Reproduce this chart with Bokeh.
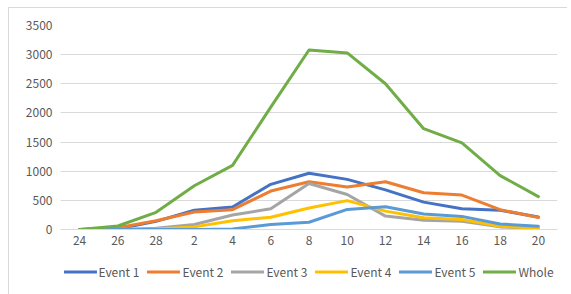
from bokeh.plotting import figure
from bokeh.models import Range1d, FactorRange, Legend, LegendItem
from bokeh.layouts import column
from bokeh.embed import file_html
from bokeh.resources import INLINE

days = ["24", "26", "28", "2", "4", "6", "8", "10", "12", "14", "16", "18", "20"]
event1 = [0, 10, 140, 330, 385, 775, 965, 860, 680, 470, 355, 330, 215]
event2 = [0, 30, 150, 300, 340, 660, 820, 730, 820, 630, 590, 340, 205]
event3 = [0, 0, 20, 85, 250, 355, 790, 600, 230, 160, 140, 45, 15]
event4 = [0, 0, 10, 45, 150, 210, 370, 495, 315, 200, 170, 55, 20]
event5 = [0, 0, 0, 0, 10, 85, 125, 345, 390, 265, 225, 95, 55]
whole = [0, 60, 295, 750, 1100, 2100, 3080, 3030, 2500, 1730, 1485, 925, 565]

series = [
    ("Event 1", event1, "#4472C4"),
    ("Event 2", event2, "#ED7D31"),
    ("Event 3", event3, "#A5A5A5"),
    ("Event 4", event4, "#FFC000"),
    ("Event 5", event5, "#5B9BD5"),
    ("Whole", whole, "#70AD47"),
]

FONT = "Noto Sans CJK SC"
TXT = "#595959"

p = figure(frame_width=497, frame_height=204, x_range=FactorRange(*days), y_range=Range1d(0, 3500),
           output_backend="svg", toolbar_location=None,
           min_border_left=51, min_border_right=10, min_border_top=17, min_border_bottom=0)
p.outline_line_color = None
p.background_fill_color = "white"
p.border_fill_color = "white"

p.xgrid.grid_line_color = None
p.ygrid.grid_line_color = "#d9d9d9"
p.ygrid.grid_line_width = 1
p.yaxis.ticker = [0, 500, 1000, 1500, 2000, 2500, 3000, 3500]

for ax in (p.xaxis, p.yaxis):
    ax.major_tick_line_color = None
    ax.minor_tick_line_color = None
    ax.major_tick_out = 0
    ax.major_tick_in = 0
    ax.major_label_text_font = FONT
    ax.major_label_text_font_size = "12px"
    ax.major_label_text_color = TXT
p.yaxis.axis_line_color = None
p.yaxis.major_label_standoff = 8
p.xaxis.axis_line_color = "#d9d9d9"
p.xaxis.major_label_standoff = 6

for name, vals, color in series:
    p.line(days, vals, line_color=color, line_width=3, line_join="round", line_cap="round")

# legend-only strip under the chart
q = figure(width=558, height=48, x_range=Range1d(0, 1), y_range=Range1d(0, 1),
           output_backend="svg", toolbar_location=None,
           x_axis_type=None, y_axis_type=None,
           min_border_left=0, min_border_right=0, min_border_top=0, min_border_bottom=0)
q.outline_line_color = None
q.grid.visible = False
q.background_fill_color = "white"
q.border_fill_color = "white"

items = []
for name, vals, color in series:
    r = q.line(x=[-5, -4], y=[-5, -4], line_color=color, line_width=3, line_cap="round")
    items.append(LegendItem(label=name, renderers=[r]))

legend = Legend(items=items, orientation="horizontal", location="center",
                glyph_width=33, glyph_height=16, label_height=16, label_standoff=2, spacing=8,
                padding=0, margin=0, border_line_color=None, background_fill_alpha=0,
                label_text_font=FONT, label_text_font_size="12px", label_text_color=TXT)
q.add_layout(legend, "center")

layout = column(p, q, spacing=0)
layout.styles = {"margin": "7px 0 0 8px",
                 "border-left": "1px solid #d9d9d9",
                 "border-top": "1px solid #d9d9d9"}

open("out.html", "w").write(file_html(layout, INLINE))
